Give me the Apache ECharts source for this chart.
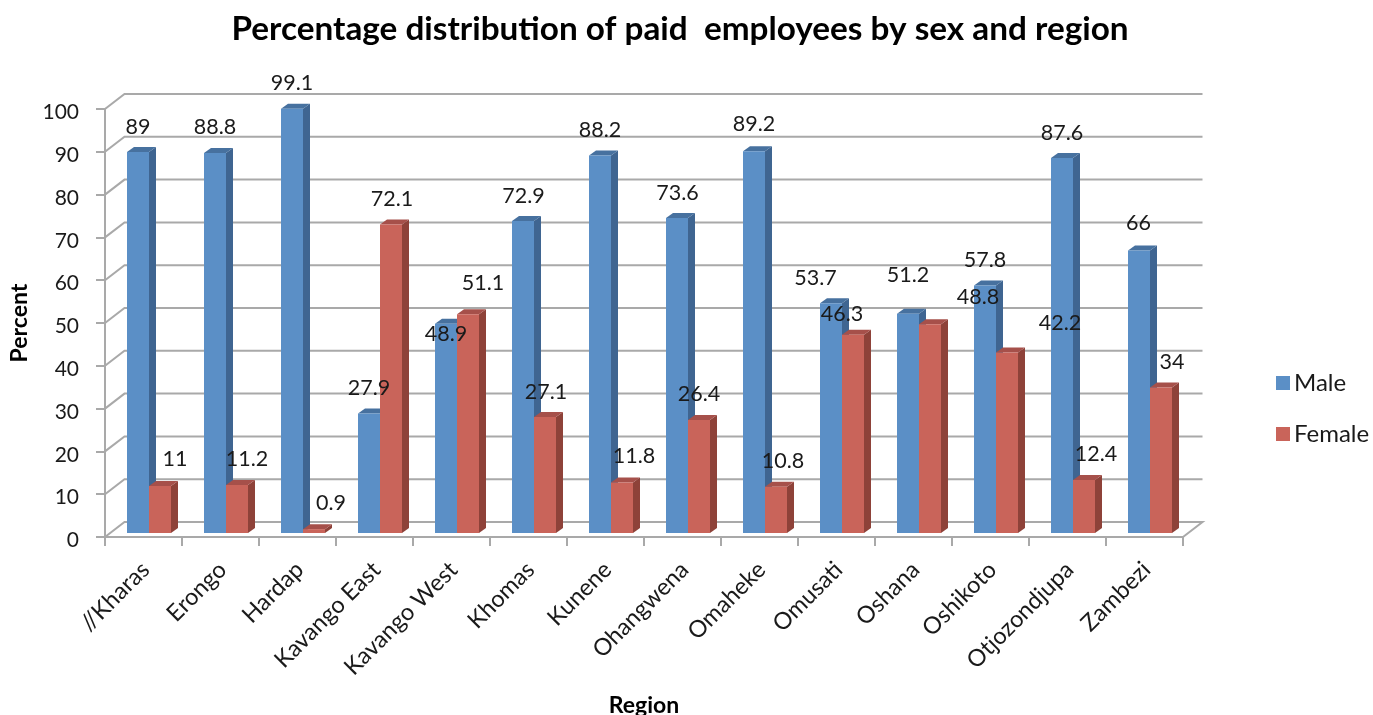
<!DOCTYPE html>
<html>
<head>
<meta charset="utf-8">
<title>Percentage distribution of paid employees</title>
<script src="https://cdn.jsdelivr.net/npm/echarts@6/dist/echarts.min.js"></script>
<style>
  html, body { margin: 0; padding: 0; background: #fff; }
  #main { width: 1373px; height: 715px; }
</style>
</head>
<body>
<div id="main"></div>
<script>
const regions = ["//Kharas", "Erongo", "Hardap", "Kavango East", "Kavango West", "Khomas", "Kunene",
  "Ohangwena", "Omaheke", "Omusati", "Oshana", "Oshikoto", "Otjozondjupa", "Zambezi"];
const male = [89, 88.8, 99.1, 27.9, 48.9, 72.9, 88.2, 73.6, 89.2, 53.7, 51.2, 57.8, 87.6, 66];
const female = [11, 11.2, 0.9, 72.1, 51.1, 27.1, 11.8, 26.4, 10.8, 46.3, 48.8, 42.2, 12.4, 34];
const yTicks = [0, 10, 20, 30, 40, 50, 60, 70, 80, 90, 100];

// hand placed labels in the original, so each one gets its own nudge from the value point
const maleNudge = [[-5.5, -29], [-5.5, -30], [-5.5, -30], [-5.5, -30], [-5.5, 6], [-5, -29], [-5.5, -29.5],
  [-5, -29], [-5.5, -31], [-21, -29], [-5.5, -43], [-5.5, -30], [-5.5, -29], [-6, -31]];
const femaleNudge = [[31.5, -31], [26.5, -30], [33.5, -30], [17.5, -29], [31.5, -35], [17.5, -29], [28.5, -30.5],
  [16.5, -30], [23.5, -30], [5.5, -25], [64.5, -31], [69.5, -33], [28.5, -30], [27.5, -29.5]];

const FONT = "Lato";
const WALL_DX = 19.5, WALL_DY = -15;   // back wall offset from the front plane
const BAR_W = 22, BAR_DX = 7, BAR_DY = -5, BAR_LIFT = -4, BAR_SHIFT = 5.5;
const GRID_COLOR = "#a9a9a9";

function poly(points, fill) {
  return { type: "polygon", shape: { points: points }, style: { fill: fill } };
}

// one 3d bar: side == -1 sits left of the category centre, side == 0 right of it
function barItem(side, front, sideCol, topCol) {
  return function (params, api) {
    const cat = api.value(0);
    const top = api.coord([cat, api.value(1)]);
    const base = api.coord([cat, 0]);
    const x0 = top[0] + BAR_SHIFT + side * BAR_W;
    const x1 = x0 + BAR_W;
    const y0 = top[1] + BAR_LIFT;
    const y1 = base[1] + BAR_LIFT;
    return {
      type: "group",
      children: [
        poly([[x1, y0], [x1 + BAR_DX, y0 + BAR_DY], [x1 + BAR_DX, y1 + BAR_DY], [x1, y1]], sideCol),
        poly([[x0, y0], [x0 + BAR_DX, y0 + BAR_DY], [x1 + BAR_DX, y0 + BAR_DY], [x1, y0]], topCol),
        poly([[x0, y0], [x1, y0], [x1, y1], [x0, y1]], front)
      ]
    };
  };
}

function labelItem(values, nudges) {
  return function (params, api) {
    const i = api.value(0);
    const p = api.coord([i, api.value(1)]);
    return {
      type: "text",
      x: p[0] + nudges[i][0],
      y: p[1] + nudges[i][1],
      style: {
        text: String(values[i]),
        fontFamily: FONT,
        fontSize: 21.5,
        fill: "#1a1a1a",
        align: "center",
        verticalAlign: "middle"
      }
    };
  };
}

// gridlines on the back wall plus the slanted piece back to the front axis
function wallItem(params, api) {
  const v = api.value(0);
  const a = api.coord([0, v]);
  const size = api.size([1, 0])[0];
  const left = a[0] - size / 2;
  const right = left + size * regions.length;
  const y = a[1];
  const lineStyle = { stroke: GRID_COLOR, lineWidth: 2, fill: null };
  const pts = [[left, y], [left + WALL_DX, y + WALL_DY], [right + WALL_DX, y + WALL_DY]];
  if (v === 0) pts.push([right, y]);
  return { type: "polyline", shape: { points: pts }, style: lineStyle };
}

const chart = echarts.init(document.getElementById("main"));
chart.setOption({
  animation: false,
  backgroundColor: "#fff",
  title: {
    text: "Percentage distribution of paid  employees by sex and region",
    left: 675,
    top: 8,
    textAlign: "center",
    textStyle: { fontFamily: FONT, fontSize: 33.3, fontWeight: "bold", color: "#000" }
  },
  legend: {
    data: ["Male", "Female"],
    orient: "vertical",
    left: 1271,
    top: 366,
    icon: "rect",
    itemWidth: 14,
    itemHeight: 14,
    itemGap: 27,
    textStyle: { fontFamily: FONT, fontSize: 24, color: "#1a1a1a", padding: [0, 0, 0, -1] }
  },
  grid: { left: 105, right: 190, top: 109, bottom: 178, outerBoundsMode: "none" },
  xAxis: {
    type: "category",
    data: regions,
    name: "Region",
    nameLocation: "middle",
    nameGap: 157,
    nameTextStyle: { fontFamily: FONT, fontSize: 23, fontWeight: "bold", color: "#000" },
    boundaryGap: true,
    axisLine: { lineStyle: { color: GRID_COLOR, width: 2 } },
    axisTick: { show: true, alignWithLabel: false, length: 9, lineStyle: { color: GRID_COLOR, width: 2 } },
    axisLabel: { rotate: 45, interval: 0, margin: 31, padding: [0, -3, 0, 0], fontFamily: FONT, fontSize: 23.5, color: "#1a1a1a" },
    splitLine: { show: false }
  },
  yAxis: {
    type: "value",
    min: 0,
    max: 100,
    interval: 10,
    name: "Percent",
    nameLocation: "middle",
    nameRotate: 90,
    nameGap: 71,
    nameTextStyle: { fontFamily: FONT, fontSize: 23, fontWeight: "bold", color: "#000" },
    axisLine: { show: true, lineStyle: { color: GRID_COLOR, width: 2 } },
    axisTick: { show: true, length: 9, lineStyle: { color: GRID_COLOR, width: 2 } },
    axisLabel: { margin: 26, verticalAlign: "top", padding: [-7, 0, 0, 0], fontFamily: FONT, fontSize: 21, color: "#1a1a1a" },
    splitLine: { show: false }
  },
  series: [
    {
      name: "wall",
      type: "custom",
      silent: true,
      z: 1,
      renderItem: wallItem,
      encode: { y: 0 },
      data: yTicks.map(v => [v])
    },
    {
      name: "Male",
      type: "custom",
      z: 2,
      itemStyle: { color: "#5b8fc6" },
      renderItem: barItem(-1, "#5b8fc6", "#3f6591", "#47719f"),
      encode: { x: 0, y: 1 },
      data: male.map((v, i) => [i, v])
    },
    {
      name: "Female",
      type: "custom",
      z: 3,
      itemStyle: { color: "#c9645a" },
      renderItem: barItem(0, "#c9645a", "#8e4239", "#a6504a"),
      encode: { x: 0, y: 1 },
      data: female.map((v, i) => [i, v])
    },
    {
      name: "maleLabels",
      type: "custom",
      silent: true,
      z: 4,
      renderItem: labelItem(male, maleNudge),
      encode: { x: 0, y: 1 },
      data: male.map((v, i) => [i, v])
    },
    {
      name: "femaleLabels",
      type: "custom",
      silent: true,
      z: 4,
      renderItem: labelItem(female, femaleNudge),
      encode: { x: 0, y: 1 },
      data: female.map((v, i) => [i, v])
    }
  ]
});
</script>
</body>
</html>
